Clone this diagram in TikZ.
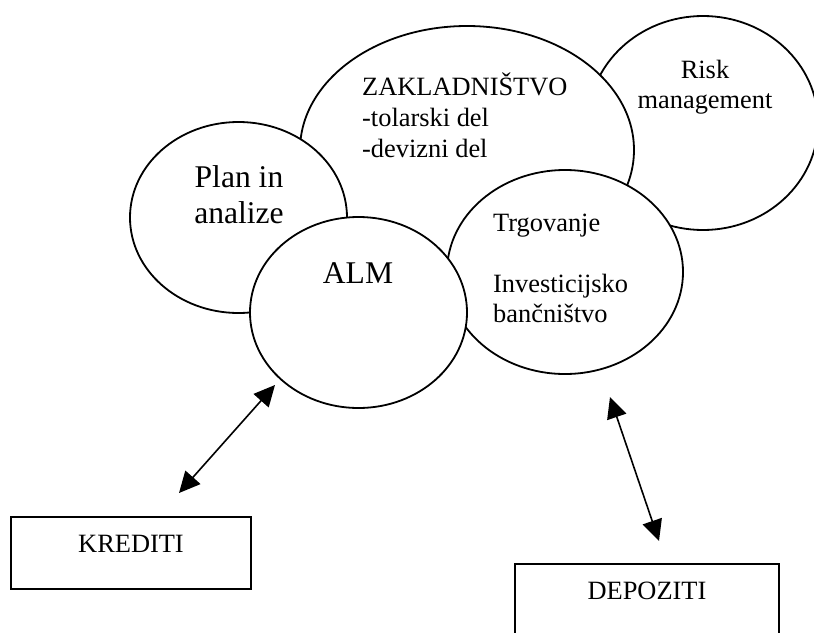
\documentclass[tikz,border=0pt]{standalone}
\usepackage{fontspec}
\setmainfont{Liberation Serif}
\usetikzlibrary{arrows.meta, positioning, shapes.geometric}

\begin{document}
\begin{tikzpicture}[
    x=1pt, y=-1pt,
    bubble/.style={
        ellipse,
        draw,
        fill=white,
        line width=1.8pt,
        inner sep=0pt
    },
    bubbletext/.style={
        align=left,
        inner sep=0pt,
        font=\fontsize{26.4}{30.6}\selectfont
    },
    bigtext/.style={
        align=center,
        inner sep=0pt,
        font=\fontsize{31.6}{36}\selectfont
    },
    sidebox/.style={
        rectangle,
        draw,
        line width=2.5pt,
        minimum height=72pt,
        text depth=18pt,
        font=\fontsize{26.4}{30.6}\selectfont
    },
    arrow/.style={{Triangle[length=21pt,width=20pt]}-{Triangle[length=21pt,width=20pt]}, line width=1.6pt}
]

\useasboundingbox (0,0) rectangle (814,632);

\node[bubble, minimum width=230pt, minimum height=214pt] (risk) at (703,123) {};
\node[bubble, minimum width=334pt, minimum height=248pt] (zak) at (467,150) {};
\node[bubble, minimum width=217pt, minimum height=191pt] (plan) at (238.5,217.5) {};
\node[bubble, minimum width=236pt, minimum height=204pt] (trg) at (565,272) {};
\node[bubble, minimum width=217pt, minimum height=191pt] (alm) at (358.5,312.5) {};

\node[bubbletext, anchor=base west] (zaktext) at (362,157) {ZAKLADNIŠTVO\\-tolarski del\\-devizni del};
\node[bubbletext, align=center, anchor=base] (risktext) at (705,108.6) {Risk\\management};
\node[bigtext, anchor=base] (plantext) at (239,223) {Plan in\\analize};
\node[bigtext, anchor=base] (almtext) at (358,283) {ALM};
\node[bubbletext, anchor=base west] (trgtext) at (493,322.8) {Trgovanje\\[30.6pt]Investicijsko\\bančništvo};

\node[sidebox, minimum width=240pt] (krediti) at (131,553) {KREDITI};
\node[sidebox, minimum width=264pt] (depoziti) at (647,600) {DEPOZITI};

\coordinate (kreditiend) at (179,493);
\coordinate (almend) at (275,385);
\coordinate (trgend) at (610,397);
\coordinate (depozitiend) at (659,541);

\draw[arrow] (kreditiend) -- (almend);
\draw[arrow] (trgend) -- (depozitiend);

\end{tikzpicture}
\end{document}
